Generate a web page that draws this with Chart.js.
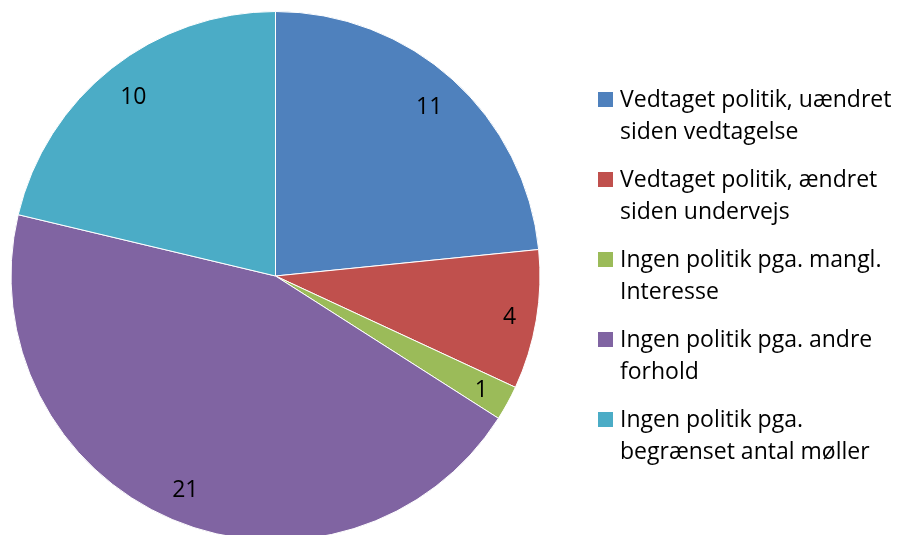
<!DOCTYPE html>
<html>
<head>
<meta charset="utf-8">
<script src="https://cdn.jsdelivr.net/npm/chart.js@4/dist/chart.umd.min.js"></script>
<style>
  html, body { margin: 0; padding: 0; background: #fff; overflow: hidden; }
  #wrap { width: 901px; height: 535px; overflow: hidden; position: relative; }
</style>
</head>
<body>
<div id="wrap"><canvas id="c" width="901" height="545"></canvas></div>
<script>
const categories = [
  ["Vedtaget politik, uændret", "siden vedtagelse"],
  ["Vedtaget politik, ændret", "siden undervejs"],
  ["Ingen politik pga. mangl.", "Interesse"],
  ["Ingen politik pga. andre", "forhold"],
  ["Ingen politik pga.", "begrænset antal møller"]
];
const values = [11, 4, 1, 21, 10];
const colors = ["#4F81BD", "#C0504D", "#9BBB59", "#8064A2", "#4BACC6"];

const FONT = '23px "Open Sans", "Noto Sans", sans-serif';
const LABEL_SIZE = 23;

const labelPlugin = {
  id: 'sliceLabels',
  afterDatasetsDraw(chart) {
    const ctx = chart.ctx;
    const meta = chart.getDatasetMeta(0);
    ctx.save();
    ctx.font = LABEL_SIZE + 'px "Open Sans", "Noto Sans", sans-serif';
    ctx.fillStyle = '#000';
    ctx.textAlign = 'center';
    ctx.textBaseline = 'alphabetic';
    const digitH = LABEL_SIZE * 0.714;
    meta.data.forEach((arc, i) => {
      const p = arc.getProps(['x', 'y', 'startAngle', 'endAngle', 'outerRadius'], true);
      const mid = (p.startAngle + p.endAngle) / 2;
      const txt = String(values[i]);
      const w = ctx.measureText(txt).width;
      const c = Math.cos(mid), s = Math.sin(mid);
      const corner = (w / 2) * Math.abs(c) + (digitH / 2 + 2) * Math.abs(s);
      const d = p.outerRadius - 19 - corner;
      ctx.fillText(txt, p.x + d * c, p.y + d * s + digitH / 2);
    });
    ctx.restore();
  }
};

const legendPlugin = {
  id: 'sideLegend',
  afterDraw(chart) {
    const ctx = chart.ctx;
    ctx.save();
    ctx.font = FONT;
    ctx.textAlign = 'left';
    ctx.textBaseline = 'alphabetic';
    categories.forEach((lines, i) => {
      const y0 = 107 + 80 * i;
      ctx.fillStyle = colors[i];
      ctx.fillRect(598, y0 - 15, 15, 15);
      ctx.fillStyle = '#000';
      lines.forEach((ln, j) => ctx.fillText(ln, 620, y0 + 32 * j));
    });
    ctx.restore();
  }
};

new Chart(document.getElementById('c'), {
  type: 'pie',
  data: {
    labels: categories.map(l => l.join(' ')),
    datasets: [{
      data: values,
      backgroundColor: colors,
      borderColor: '#ffffff',
      borderWidth: 1
    }]
  },
  options: {
    responsive: false,
    animation: false,
    layout: { padding: { left: 10, top: 11, right: 360, bottom: 4 } },
    plugins: { legend: { display: false }, tooltip: { enabled: false } }
  },
  plugins: [labelPlugin, legendPlugin]
});
</script>
</body>
</html>
